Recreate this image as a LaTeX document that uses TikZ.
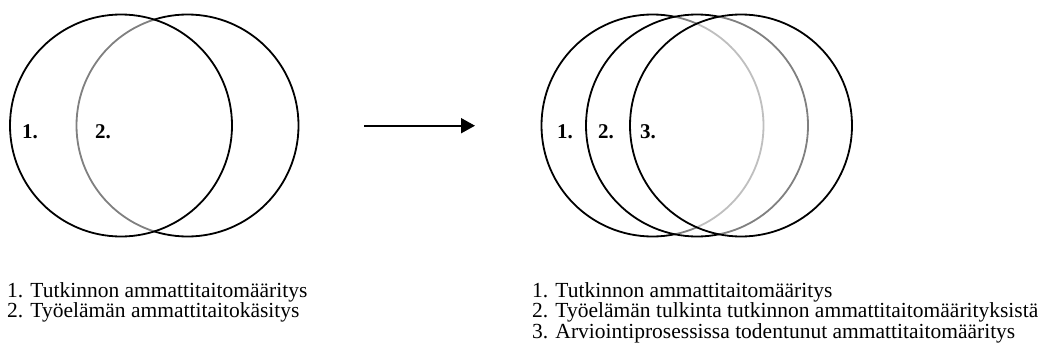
\documentclass[tikz,border=0pt]{standalone}
\usepackage{fontspec}
\setmainfont{Liberation Serif}
\usetikzlibrary{arrows.meta}
\begin{document}
\begin{tikzpicture}[x=1pt,y=-1pt,
  ring/.style={circle,draw=black,line width=1.8pt,minimum size=222pt,inner sep=0pt,outer sep=0pt},
  veil/.style={fill=white,fill opacity=0.5},
  num/.style={anchor=base west,inner sep=0pt,font=\fontsize{21}{21}\selectfont\bfseries},
  legend/.style={anchor=base west,inner sep=0pt,font=\fontsize{21.5}{21.5}\selectfont},
  arrowline/.style={line width=1.8pt,-{Triangle[length=14pt,width=15pt]}}]
\useasboundingbox (0,0) rectangle (1054,353);
% left group
\node[ring] (l2) at (187.5,125.5) {};
\node[ring,veil] (l1) at (121,125.5) {};
\node[num] (ln1) at (22,138) {1.};
\node[num] (ln2) at (95,138) {2.};
% arrow
\coordinate (as) at (364,125.7);
\coordinate (ae) at (475,125.7);
\draw[arrowline] (as) -- (ae);
% right group
\node[ring] (r1) at (652.5,125.5) {};
\node[ring,veil] (r2) at (697,125.5) {};
\node[ring,veil] (r3) at (741,125.5) {};
\node[num] (rn1) at (557,138) {1.};
\node[num] (rn2) at (598,138) {2.};
\node[num] (rn3) at (640,138) {3.};
% legends
\node[legend] (lt1) at (7,297) {1. Tutkinnon ammattitaitomääritys};
\node[legend] (lt2) at (7,317) {2. Työelämän ammattitaitokäsitys};
\node[legend] (rt1) at (532,297) {1. Tutkinnon ammattitaitomääritys};
\node[legend] (rt2) at (532,317) {2. Työelämän tulkinta tutkinnon ammattitaitomäärityksistä};
\node[legend] (rt3) at (532,338) {3. Arviointiprosessissa todentunut ammattitaitomääritys};
\end{tikzpicture}
\end{document}
